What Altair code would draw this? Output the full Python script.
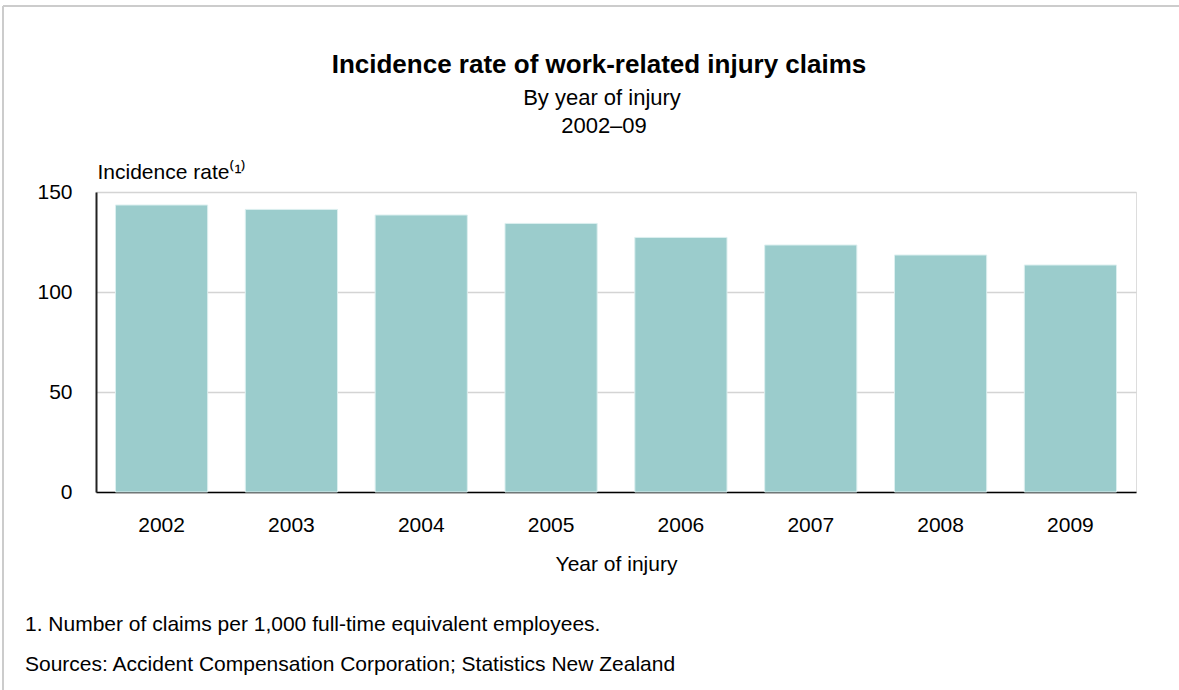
import altair as alt
import pandas as pd

years = ["2002", "2003", "2004", "2005", "2006", "2007", "2008", "2009"]
rates = [143.5, 141.3, 138.5, 134.3, 127.3, 123.5, 118.5, 113.5]
y_ticks = [0, 50, 100, 150]
title_text = "Incidence rate of work-related injury claims"
subtitle_lines = ["By year of injury", "2002–09"]
footnotes = [
    "1. Number of claims per 1,000 full-time equivalent employees.",
    "Sources: Accident Compensation Corporation; Statistics New Zealand",
]

FONT = "Liberation Sans"
PAD_L, PAD_T = 96, 192
W, H = 1040, 300

df = pd.DataFrame({"year": years, "rate": rates})

bars = alt.Chart(df).mark_bar(color="#9bcccc", stroke="#dcefef", strokeWidth=1).encode(
    x=alt.X(
        "year:N",
        sort=years,
        scale=alt.Scale(paddingInner=0.29, paddingOuter=0.15),
        axis=alt.Axis(
            title="Year of injury",
            labelAngle=0,
            labelFontSize=21,
            labelPadding=22,
            labelColor="#000",
            titleFontSize=21,
            titleFontWeight="normal",
            titlePadding=18,
            titleColor="#000",
            ticks=False,
            grid=False,
            domainColor="#000",
            domainWidth=1.5,
            labelFont=FONT,
            titleFont=FONT,
        ),
    ),
    y=alt.Y(
        "rate:Q",
        scale=alt.Scale(domain=[0, 150], nice=False),
        axis=alt.Axis(
            values=y_ticks,
            title="Incidence rate⁽¹⁾",
            titleAngle=0,
            titleAlign="left",
            titleBaseline="middle",
            titleX=1,
            titleY=-20,
            titleFontSize=21,
            titleFontWeight="normal",
            titleColor="#000",
            labelFontSize=21,
            labelPadding=24,
            labelColor="#000",
            ticks=False,
            domainColor="#222",
            domainWidth=2,
            grid=True,
            gridColor="#d4d4d4",
            gridWidth=1.5,
            labelFont=FONT,
            titleFont=FONT,
        ),
    ),
)

one = pd.DataFrame({"a": [0]})


def text_at(txt, x, y, size, weight="normal", align="left"):
    return alt.Chart(pd.DataFrame({"t": [txt]})).mark_text(
        align=align, baseline="middle", fontSize=size, font=FONT, fontWeight=weight, color="#000"
    ).encode(text="t:N", x=alt.value(x - PAD_L), y=alt.value(y - PAD_T))


title_layers = [
    text_at(title_text, 599, 65, 26, weight="bold", align="center"),
    text_at(subtitle_lines[0], 602, 98, 22, align="center"),
    text_at(subtitle_lines[1], 604, 126, 22, align="center"),
]
note_layers = [
    text_at(footnotes[0], 25, 625, 21),
    text_at(footnotes[1], 25, 665, 21),
]

frame_top = alt.Chart(one).mark_rule(color="#cccccc", strokeWidth=2).encode(
    x=alt.value(3 - PAD_L), x2=alt.value(1179 - PAD_L), y=alt.value(6 - PAD_T)
)
frame_left = alt.Chart(one).mark_rule(color="#cccccc", strokeWidth=2).encode(
    x=alt.value(3 - PAD_L), y=alt.value(6 - PAD_T), y2=alt.value(690 - PAD_T)
)

chart = alt.layer(bars, *title_layers, *note_layers, frame_top, frame_left).properties(
    width=W,
    height=H,
    padding={"left": PAD_L, "top": PAD_T, "right": 1179 - PAD_L - W, "bottom": 690 - PAD_T - H},
    autosize=alt.AutoSizeParams(type="none"),
).configure_view(stroke="transparent", strokeWidth=0).configure(background="white")

chart.save("out.html", embed_options={"renderer": "svg", "actions": False})
